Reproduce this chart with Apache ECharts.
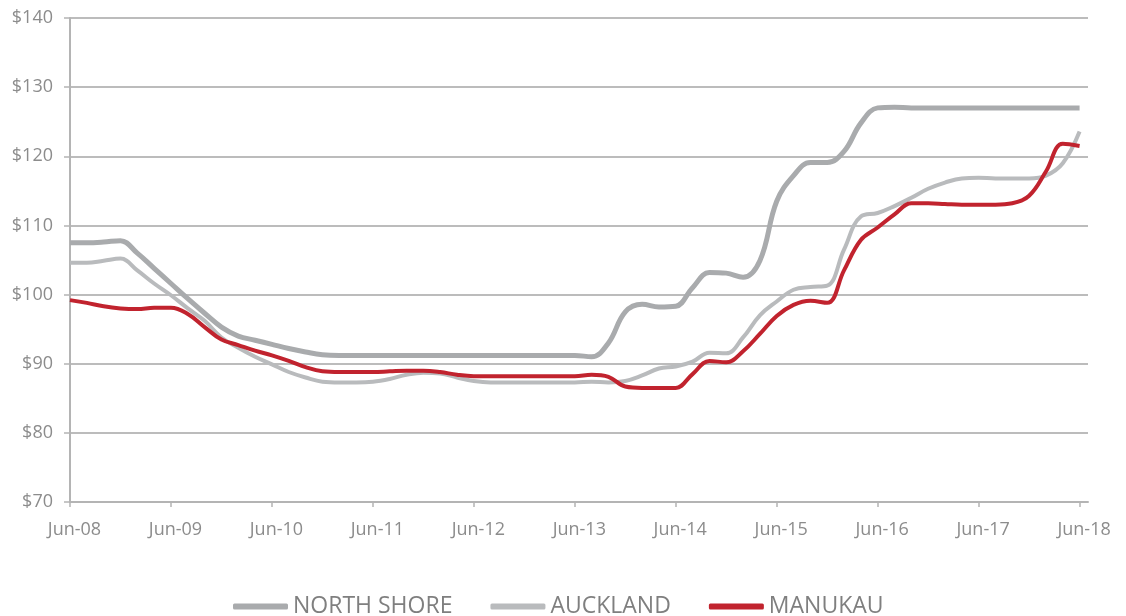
<!DOCTYPE html>
<html>
<head>
<meta charset="utf-8">
<title>Median weekly rent</title>
<script src="https://cdn.jsdelivr.net/npm/echarts@6/dist/echarts.min.js"></script>
<style>
  html, body { margin: 0; padding: 0; background: #ffffff; }
  #chart { width: 1126px; height: 616px; }
</style>
</head>
<body>
<div id="chart"></div>
<script>
// Months since Jun-08, sampled every two months
const months = [];
for (let m = 0; m <= 120; m += 2) months.push(m);

// Year tick labels, one per June
const xLabels = ['Jun-08', 'Jun-09', 'Jun-10', 'Jun-11', 'Jun-12', 'Jun-13',
                 'Jun-14', 'Jun-15', 'Jun-16', 'Jun-17', 'Jun-18'];

const northShore = [
  107.5, 107.5, 107.6, 107.8, 106.0, 103.8, 101.6, 99.4, 97.3, 95.3,
  94.0, 93.4, 92.8, 92.2, 91.7, 91.3, 91.2, 91.2, 91.2, 91.2,
  91.2, 91.2, 91.2, 91.2, 91.2, 91.2, 91.2, 91.2, 91.2, 91.2,
  91.2, 91.0, 93.0, 97.5, 98.6, 98.2, 98.3, 101.0, 103.2, 103.1,
  102.5, 104.9, 113.5, 117.2, 119.1, 119.1, 120.7, 124.8, 127.0, 127.1,
  127.0, 127.0, 127.0, 127.0, 127.0, 127.0, 127.0, 127.0, 127.0, 127.0,
  127.0
];

const auckland = [
  104.6, 104.6, 104.9, 105.2, 103.5, 101.6, 99.9, 98.0, 96.2, 93.8,
  92.3, 91.0, 89.9, 88.8, 88.0, 87.4, 87.3, 87.3, 87.4, 87.8,
  88.4, 88.7, 88.6, 88.0, 87.5, 87.3, 87.3, 87.3, 87.3, 87.3,
  87.3, 87.4, 87.3, 87.5, 88.3, 89.3, 89.6, 90.3, 91.6, 91.5,
  93.8, 97.0, 99.0, 100.7, 101.1, 101.3, 106.5, 111.3, 111.8, 112.8,
  114.0, 115.3, 116.2, 116.8, 116.9, 116.8, 116.8, 116.8, 117.2, 119.0,
  123.6
];

const manukau = [
  99.2, 98.8, 98.3, 98.0, 97.9, 98.1, 98.1, 97.2, 95.3, 93.5,
  92.7, 91.9, 91.2, 90.4, 89.5, 88.9, 88.8, 88.8, 88.8, 88.9,
  89.0, 89.0, 88.8, 88.4, 88.2, 88.2, 88.2, 88.2, 88.2, 88.2,
  88.2, 88.4, 88.1, 86.7, 86.5, 86.5, 86.5, 88.5, 90.4, 90.2,
  91.8, 94.3, 96.9, 98.5, 99.1, 98.8, 103.5, 107.9, 109.7, 111.6,
  113.2, 113.2, 113.1, 113.0, 113.0, 113.0, 113.2, 114.3, 117.8, 121.8,
  121.5
];

const pair = vals => months.map((m, i) => [m, vals[i]]);

const yearTicks = xLabels.map((_, i) => i * 12);
const labelFont = '"Open Sans", "DejaVu Sans", sans-serif';
const axisGray = '#b4b4b4';
const gridGray = '#bcbcbc';
const textGray = '#8c8c8c';

const chart = echarts.init(document.getElementById('chart'), null, { renderer: 'canvas' });

chart.setOption({
  backgroundColor: '#ffffff',
  animation: false,
  grid: { left: 70, right: 38, top: 18, bottom: 114 },
  legend: {
    top: 590,
    left: 228,
    icon: 'roundRect',
    itemWidth: 55,
    itemHeight: 6,
    itemGap: 38,
    textStyle: { fontFamily: labelFont, fontSize: 23, color: '#7f7f7f' },
    data: ['NORTH SHORE', 'AUCKLAND', 'MANUKAU']
  },
  xAxis: {
    type: 'value',
    min: 0,
    max: 121,
    axisLine: { show: true, lineStyle: { color: axisGray, width: 2 } },
    axisTick: { show: true, length: 5, customValues: yearTicks,
                lineStyle: { color: axisGray, width: 1.5 } },
    axisLabel: {
      customValues: yearTicks,
      margin: 19,
      padding: [0, 0, 0, 9],
      fontFamily: labelFont,
      fontSize: 18,
      color: textGray,
      formatter: v => xLabels[Math.round(v / 12)] || ''
    },
    splitLine: { show: false }
  },
  yAxis: {
    type: 'value',
    min: 70,
    max: 140,
    interval: 10,
    axisLine: { show: true, lineStyle: { color: axisGray, width: 2 } },
    axisTick: { show: true, inside: false, length: 6,
                lineStyle: { color: axisGray, width: 1.5 } },
    axisLabel: {
      margin: 17,
      fontFamily: labelFont,
      fontSize: 18,
      color: textGray,
      formatter: v => '$' + v
    },
    splitLine: { show: true, lineStyle: { color: gridGray, width: 2 } }
  },
  series: [
    {
      name: 'NORTH SHORE',
      type: 'line',
      data: pair(northShore),
      smooth: 0.4,
      showSymbol: false,
      color: '#a9abad',
      lineStyle: { width: 5, color: '#a9abad' },
      z: 3
    },
    {
      name: 'AUCKLAND',
      type: 'line',
      data: pair(auckland),
      smooth: 0.4,
      showSymbol: false,
      color: '#b9bbbd',
      lineStyle: { width: 4, color: '#b9bbbd' },
      z: 3
    },
    {
      name: 'MANUKAU',
      type: 'line',
      data: pair(manukau),
      smooth: 0.4,
      showSymbol: false,
      color: '#c1232e',
      lineStyle: { width: 4, color: '#c1232e' },
      z: 4
    }
  ]
});
</script>
</body>
</html>
